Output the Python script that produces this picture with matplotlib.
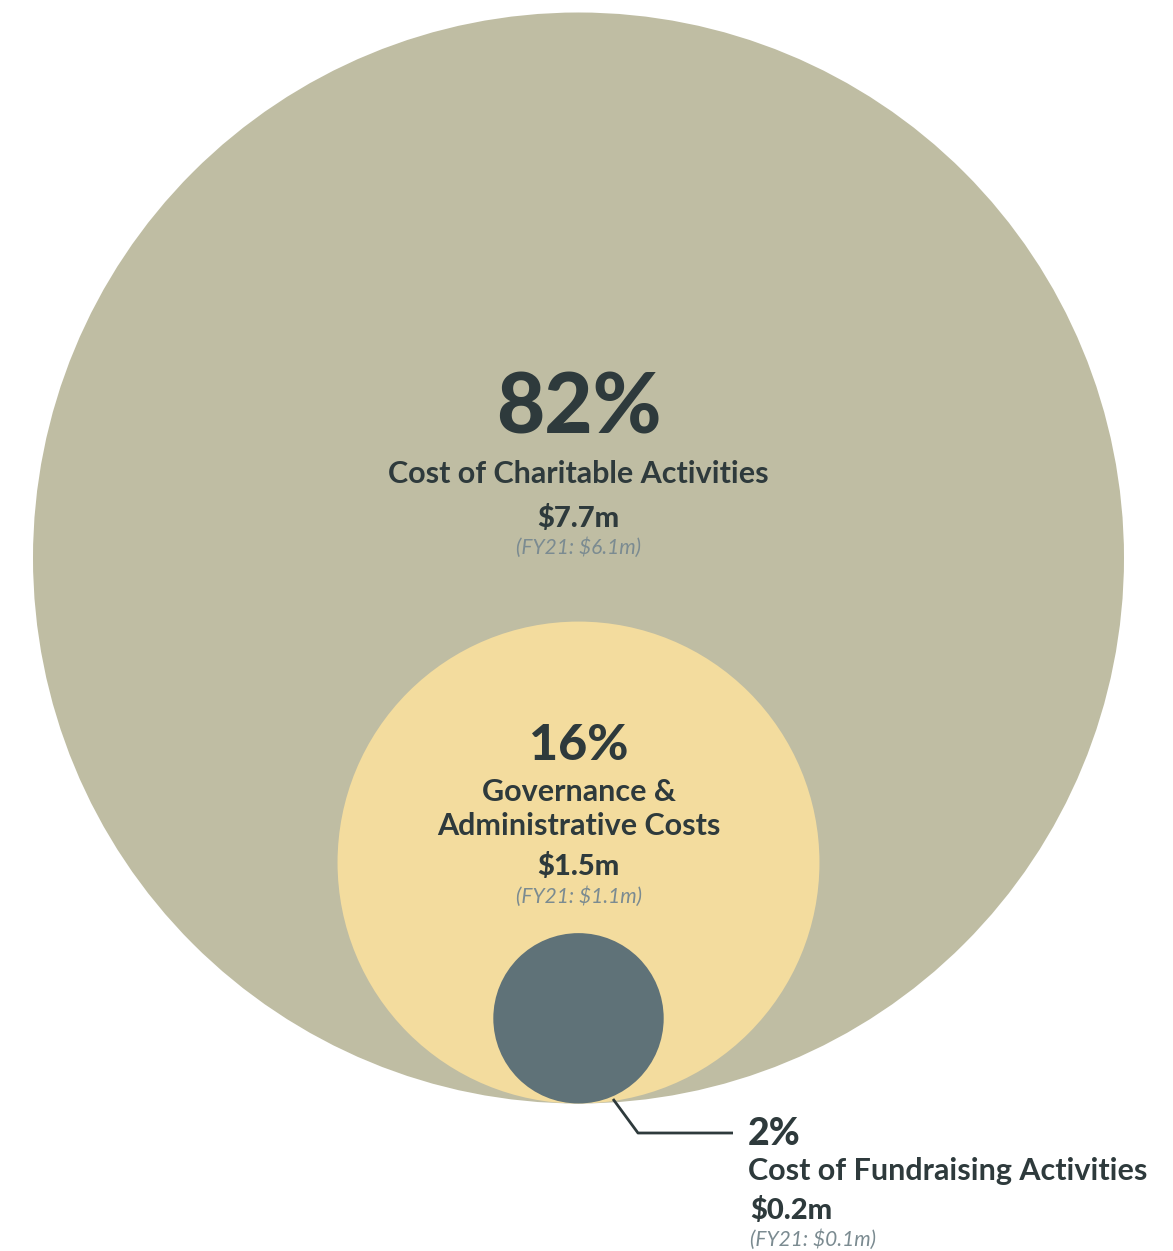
import matplotlib
matplotlib.use("Agg")
import matplotlib.pyplot as plt
from matplotlib.patches import Circle
import numpy as np

# datos
categorias = ["Cost of Charitable Activities",
              "Governance &\nAdministrative Costs",
              "Cost of Fundraising Activities"]
porcentajes = [82, 16, 2]
montos = ["$7.7m", "$1.5m", "$0.2m"]
previos = ["(FY21: $6.1m)", "(FY21: $1.1m)", "(FY21: $0.1m)"]
colores = ["#bfbda3", "#f3dc9e", "#5f7278"]

oscuro = "#2e3a3c"
gris = "#7b8b91"

plt.rcParams['font.family'] = ['Lato', 'DejaVu Sans']

fig = plt.figure(figsize=(11.73, 12.51), dpi=100)
ax = fig.add_axes([0, 0, 1, 1])
ax.set_xlim(0, 1173)
ax.set_ylim(1251, 0)
ax.set_aspect('equal')
ax.axis('off')

# circulos anidados, tangentes abajo, area proporcional al porcentaje
cx = 578.5
fondo = 1103.5
R = 545.5
radios = [R * np.sqrt(p / porcentajes[0]) for p in porcentajes]
for r, c in zip(radios, colores):
    ax.add_patch(Circle((cx, fondo - r), r, color=c, lw=0, antialiased=True))

# circulo grande
ax.text(cx, 409, f"{porcentajes[0]}%", ha='center', va='center',
        fontsize=60, fontweight='black', color=oscuro)
ax.text(cx, 474, categorias[0], ha='center', va='center',
        fontsize=22, fontweight='bold', color=oscuro)
ax.text(cx, 518, montos[0], ha='center', va='center',
        fontsize=21, fontweight='black', color=oscuro)
ax.text(cx, 548, previos[0], ha='center', va='center',
        fontsize=15, style='italic', color=gris)

# circulo medio
ax.text(cx, 745, f"{porcentajes[1]}%", ha='center', va='center',
        fontsize=36, fontweight='black', color=oscuro)
for i, linea in enumerate(categorias[1].split("\n")):
    ax.text(cx, 792 + 34 * i, linea, ha='center', va='center',
            fontsize=22, fontweight='bold', color=oscuro)
ax.text(cx, 866, montos[1], ha='center', va='center',
        fontsize=21, fontweight='black', color=oscuro)
ax.text(cx, 897, previos[1], ha='center', va='center',
        fontsize=15, style='italic', color=gris)

# etiqueta del circulo chico
ax.plot([613, 638, 733], [1099, 1133, 1133], color=oscuro, lw=2.0,
        solid_capstyle='butt')
xt = 748
ax.text(xt, 1134, f"{porcentajes[2]}%", ha='left', va='center',
        fontsize=27, fontweight='black', color=oscuro)
ax.text(xt, 1171, categorias[2], ha='left', va='center',
        fontsize=22, fontweight='bold', color=oscuro)
ax.text(xt + 2, 1210, montos[2], ha='left', va='center',
        fontsize=21, fontweight='black', color=oscuro)
ax.text(xt + 2, 1240, previos[2], ha='left', va='center',
        fontsize=15, style='italic', color=gris)

fig.savefig("out.png", dpi=100, facecolor='white')
